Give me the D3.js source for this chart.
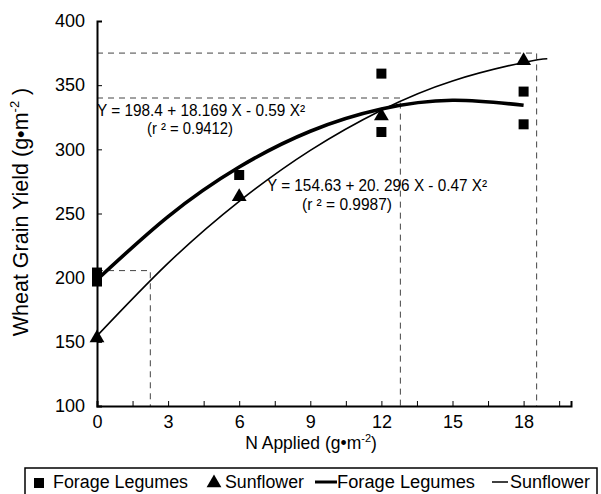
<!DOCTYPE html>
<html>
<head>
<meta charset="utf-8">
<script src="https://cdn.jsdelivr.net/npm/d3@7"></script>
<style>
  body { margin: 0; background: #fff; }
  svg { display: block; font-family: "Liberation Sans", Arial, sans-serif; }
</style>
</head>
<body>
<div id="chart"></div>
<script>
// observed yields
const forageN = [0, 0, 6, 12, 12, 18, 18];
const forageYield = [204, 197, 280, 359, 313.5, 345, 319.5];
const sunN = [0, 6, 12, 18];
const sunYield = [153, 263, 326, 369];

// fitted curves
const forageFitN = [0, 3, 6, 9, 12, 15, 18];
const forageFitY = [198.4, 247.6, 286.2, 314.1, 331.4, 338.2, 334.3];
const sunFitN = [0, 3, 6, 9, 12, 15, 18, 19];
const sunFitY = [154.6, 211.3, 259.5, 299.2, 330.5, 353.3, 367.7, 370.6];

// dashed guide lines (N, yield)
const guideN = [2.25, 12.8, 18.55];
const guideY = [205.5, 340, 375];

const xTicks = [0, 3, 6, 9, 12, 15, 18];
const yTicks = [100, 150, 200, 250, 300, 350, 400];

function createChart() {
  const width = 601, height = 494;
  const font = "Liberation Sans, Arial, sans-serif";
  const svg = d3.select("#chart").append("svg")
    .attr("width", width).attr("height", height);

  const x = d3.scaleLinear().domain([0, 20]).range([97, 571]);
  const y = d3.scaleLinear().domain([100, 400]).range([406, 21]);

  // dashed guides
  const guides = svg.append("g")
    .attr("stroke", "#444").attr("stroke-width", 1)
    .attr("stroke-dasharray", "6,5").attr("fill", "none");
  guideN.forEach((n, i) => {
    guides.append("path")
      .attr("d", `M${x(0)},${y(guideY[i])}H${x(n)}V${y(100)}`);
  });

  // axes
  const xAxis = d3.axisBottom(x).tickValues(d3.range(0, 20, 1.5))
    .tickSize(-5).tickFormat(d => xTicks.includes(d) ? d : "");
  const gx = svg.append("g").attr("transform", `translate(0,${y(100)})`).call(xAxis);
  gx.attr("font-size", 18).attr("font-family", font);
  gx.select(".domain").attr("stroke-width", 2);
  gx.selectAll(".tick text").attr("dy", "1.05em").attr("fill", "#000");

  const yAxis = d3.axisLeft(y).tickValues(yTicks).tickSize(-5).tickPadding(12);
  const gy = svg.append("g").attr("transform", `translate(${x(0)},0)`).call(yAxis);
  gy.attr("font-size", 18).attr("font-family", font);
  gy.select(".domain").attr("stroke-width", 2);
  gy.selectAll(".tick text").attr("fill", "#000");

  // fitted curves
  const line = d3.line().curve(d3.curveNatural).x(d => x(d[0])).y(d => y(d[1]));
  svg.append("path").datum(d3.zip(sunFitN, sunFitY))
    .attr("d", line).attr("fill", "none").attr("stroke", "#000").attr("stroke-width", 1.6);
  svg.append("path").datum(d3.zip(forageFitN, forageFitY))
    .attr("d", line).attr("fill", "none").attr("stroke", "#000").attr("stroke-width", 3.6);

  // points
  svg.append("g").selectAll("rect").data(d3.zip(forageN, forageYield)).join("rect")
    .attr("x", d => x(d[0]) - 5).attr("y", d => y(d[1]) - 5)
    .attr("width", 10).attr("height", 10).attr("fill", "#000");
  const tri = d3.symbol().type(d3.symbolTriangle).size(95);
  svg.append("g").selectAll("path").data(d3.zip(sunN, sunYield)).join("path")
    .attr("d", tri).attr("transform", d => `translate(${x(d[0])},${y(d[1])})`)
    .attr("fill", "#000");

  // equations
  const eq = svg.append("g").attr("font-size", 16).attr("fill", "#000");
  eq.append("text").attr("x", 97).attr("y", 116).attr("textLength", 208)
    .attr("lengthAdjust", "spacingAndGlyphs").text("Y = 198.4 + 18.169 X - 0.59 X²");
  eq.append("text").attr("x", 147).attr("y", 134).attr("textLength", 86)
    .attr("lengthAdjust", "spacingAndGlyphs").text("(r ² = 0.9412)");
  eq.append("text").attr("x", 267).attr("y", 191).attr("textLength", 220)
    .attr("lengthAdjust", "spacingAndGlyphs").text("Y = 154.63 + 20. 296 X - 0.47 X²");
  eq.append("text").attr("x", 302).attr("y", 210).attr("textLength", 90)
    .attr("lengthAdjust", "spacingAndGlyphs").text("(r ² = 0.9987)");

  // axis titles
  const yl = svg.append("text").attr("transform", "translate(28,212) rotate(-90)")
    .attr("text-anchor", "middle").attr("font-size", 21.5).attr("fill", "#000");
  yl.append("tspan").text("Wheat Grain Yield (g•m");
  yl.append("tspan").attr("font-size", 13).attr("dy", -9).text("-2");
  yl.append("tspan").attr("dy", 9).text(" )");

  const xl = svg.append("text").attr("x", 311).attr("y", 449)
    .attr("text-anchor", "middle").attr("font-size", 17.5).attr("fill", "#000");
  xl.append("tspan").text("N Applied (g•m");
  xl.append("tspan").attr("font-size", 11).attr("dy", -7).text("-2");
  xl.append("tspan").attr("dy", 7).text(")");

  // legend
  const lg = svg.append("g");
  lg.append("rect").attr("x", 25).attr("y", 468).attr("width", 572).attr("height", 40)
    .attr("fill", "none").attr("stroke", "#000").attr("stroke-width", 1.5);
  const lt = lg.append("g").attr("font-size", 18).attr("fill", "#000");
  lg.append("rect").attr("x", 34).attr("y", 478).attr("width", 10).attr("height", 10);
  lt.append("text").attr("x", 53).attr("y", 488).attr("textLength", 135)
    .attr("lengthAdjust", "spacingAndGlyphs").text("Forage Legumes");
  lg.append("path").attr("d", d3.symbol().type(d3.symbolTriangle).size(95))
    .attr("transform", "translate(214,483)");
  lt.append("text").attr("x", 225).attr("y", 488).attr("textLength", 79)
    .attr("lengthAdjust", "spacingAndGlyphs").text("Sunflower");
  lg.append("line").attr("x1", 315).attr("x2", 337).attr("y1", 482).attr("y2", 482)
    .attr("stroke", "#000").attr("stroke-width", 3);
  lt.append("text").attr("x", 337).attr("y", 488).attr("textLength", 138)
    .attr("lengthAdjust", "spacingAndGlyphs").text("Forage Legumes");
  lg.append("line").attr("x1", 492).attr("x2", 508).attr("y1", 482).attr("y2", 482)
    .attr("stroke", "#000").attr("stroke-width", 1.5);
  lt.append("text").attr("x", 510).attr("y", 488).attr("textLength", 80)
    .attr("lengthAdjust", "spacingAndGlyphs").text("Sunflower");
}

document.addEventListener("DOMContentLoaded", createChart);
</script>
</body>
</html>
